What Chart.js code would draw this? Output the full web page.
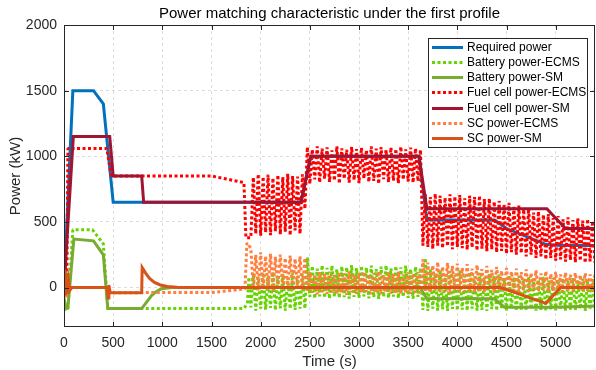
<!DOCTYPE html>
<html>
<head>
<meta charset="utf-8">
<title>Power matching characteristic</title>
<script src="https://cdn.jsdelivr.net/npm/chart.js@4.4.1/dist/chart.umd.min.js"></script>
<style>
  html, body { margin: 0; padding: 0; background: #fff; }
  canvas { display: block; }
</style>
</head>
<body>
<canvas id="powerChart" width="596" height="370"></canvas>
<script>
// time in s, power in kW
const xTickValues = [0, 500, 1000, 1500, 2000, 2500, 3000, 3500, 4000, 4500, 5000];
const yTickValues = [0, 500, 1000, 1500, 2000];

const reqTime  = [0, 90, 300, 400, 500, 790, 810, 2410, 2510, 3610, 3690, 4380, 4500, 4900, 5050, 5400];
const reqPower = [0, 1500, 1500, 1400, 650, 650, 650, 650, 1000, 1000, 515, 515, 450, 330, 320, 320];

const fcSmTime  = [0, 95, 465, 500, 790, 810, 2410, 2510, 3610, 3690, 4910, 5100, 5400];
const fcSmPower = [0, 1150, 1150, 850, 850, 650, 650, 1000, 1000, 600, 600, 450, 450];

const batSmTime  = [0, 20, 40, 100, 300, 400, 445, 790, 840, 890, 940, 990, 1100, 3620, 3690, 4380, 4480, 5000, 5400];
const batSmPower = [-80, -160, -150, 370, 356, 250, -160, -160, -110, -60, -30, -8, 0, 0, -85, -85, -150, -150, -140];

const scSmTime  = [0, 8, 16, 24, 32, 45, 60, 80, 440, 448, 456, 470, 790, 795, 830, 870, 920, 980, 1050, 1150, 1300, 4440, 4900, 5050, 5400];
const scSmPower = [0, 140, -60, 110, -50, 60, -20, 0, 0, -80, 20, -40, -40, 152, 110, 70, 40, 20, 8, 2, 0, 0, -120, 0, 0];

// ECMS: smooth start, then the oscillating part on a common time base
const fcEcmsTime  = [0, 30, 40, 435, 480, 1500, 1830, 1850];
const fcEcmsPower = [0, 150, 1060, 1060, 850, 850, 800, 380];
const batEcmsTime  = [0, 20, 40, 90, 290, 400, 445, 1830, 1865, 1880];
const batEcmsPower = [-100, -170, -160, 440, 440, 333, -160, -160, -120, 80];
const scEcmsTime  = [0, 10, 25, 40, 60, 440, 455, 800, 1500, 1840, 1860];
const scEcmsPower = [0, 120, -80, 60, 0, 0, -40, -38, -38, -10, 340];

const oscTime = [
  1900, 1925, 1950, 1975, 2000, 2025, 2050, 2075, 2100, 2125,
  2150, 2175, 2200, 2225, 2250, 2275, 2300, 2325, 2350, 2375,
  2400, 2425, 2450, 2475, 2500, 2525, 2550, 2575, 2600, 2625,
  2650, 2675, 2700, 2725, 2750, 2775, 2800, 2825, 2850, 2875,
  2900, 2925, 2950, 2975, 3000, 3025, 3050, 3075, 3100, 3125,
  3150, 3175, 3200, 3225, 3250, 3275, 3300, 3325, 3350, 3375,
  3400, 3425, 3450, 3475, 3500, 3525, 3550, 3575, 3600, 3625,
  3650, 3675, 3700, 3725, 3750, 3775, 3800, 3825, 3850, 3875,
  3900, 3925, 3950, 3975, 4000, 4025, 4050, 4075, 4100, 4125,
  4150, 4175, 4200, 4225, 4250, 4275, 4300, 4325, 4350, 4375,
  4400, 4425, 4450, 4475, 4500, 4525, 4550, 4575, 4600, 4625,
  4650, 4675, 4700, 4725, 4750, 4775, 4800, 4825, 4850, 4875,
  4900, 4925, 4950, 4975, 5000, 5025, 5050, 5075, 5100, 5125,
  5150, 5175, 5200, 5225, 5250, 5275, 5300, 5325, 5350, 5375,
  5400
];
const fcEcmsOsc = [
  380, 840, 410, 865, 395, 845, 420, 860, 400, 835,
  430, 858, 405, 842, 425, 866, 398, 850, 435, 845,
  410, 862, 600, 1070, 790, 1052, 825, 1075, 800, 1058,
  830, 1068, 805, 1045, 815, 1075, 792, 1060, 828, 1050,
  800, 1072, 818, 1055, 796, 1066, 830, 1048, 805, 1075,
  812, 1058, 790, 1070, 826, 1050, 802, 1068, 815, 1056,
  795, 1074, 822, 1052, 808, 1066, 798, 1060, 810, 1050,
  320, 712, 310, 690, 295, 715, 320, 700, 300, 685,
  315, 710, 292, 695, 310, 705, 300, 680, 288, 700,
  305, 690, 282, 700, 296, 675, 278, 680, 290, 655,
  268, 660, 280, 635, 258, 645, 270, 615, 250, 625,
  262, 595, 238, 605, 250, 572, 226, 580, 238, 555,
  214, 560, 226, 530, 205, 545, 215, 520, 198, 535,
  210, 515, 192, 528, 204, 510, 188, 522, 200, 505,
  190
];
const batEcmsOsc = [
  -150, 110, -175, 80, -160, 115, -168, 85, -155, 120,
  -172, 90, -158, 105, -176, 75, -162, 112, -170, 88,
  -160, 100, -160, 230, -70, 165, -82, 145, -66, 170,
  -78, 150, -85, 168, -68, 140, -80, 162, -72, 155,
  -84, 172, -70, 148, -79, 165, -66, 152, -82, 168,
  -74, 140, -86, 160, -70, 170, -80, 146, -68, 164,
  -82, 155, -72, 168, -78, 142, -84, 160, -70, 150,
  -170, 225, -178, 140, -160, 110, -175, 135, -165, 100,
  -178, 125, -162, 95, -174, 130, -168, 90, -176, 118,
  -160, 85, -175, 112, -170, 80, -178, 105, -164, 88,
  -176, 100, -166, 72, -174, 95, -160, 78, -178, 90,
  -168, 65, -175, 85, -162, 70, -176, 60, -170, 82,
  -178, 55, -166, 75, -174, 60, -160, 70, -176, 52,
  -168, 72, -175, 55, -162, 68, -178, 50, -170, 64,
  -175
];
const scEcmsOsc = [
  300, -5, 250, -20, 268, -8, 240, -15, 258, -25,
  235, -5, 252, -18, 226, -10, 244, -22, 220, -8,
  238, -15, 225, -30, 120, -40, 100, -52, 118, -35,
  105, -48, 122, -38, 96, -50, 116, -42, 108, -55,
  124, -36, 98, -48, 114, -44, 120, -34, 102, -52,
  110, -40, 125, -50, 95, -38, 118, -46, 104, -42,
  122, -50, 100, -36, 116, -48, 108, -40, 120, -44,
  215, -25, 190, -40, 170, -22, 195, -35, 160, -28,
  188, -42, 165, -20, 182, -36, 150, -30, 178, -24,
  145, -38, 172, -26, 140, -34, 165, -20, 135, -40,
  158, -28, 128, -22, 150, -36, 122, -25, 145, -32,
  118, -20, 138, -34, 112, -26, 132, -30, 108, -22,
  125, -32, 104, -24, 120, -28, 100, -34, 115, -20,
  98, -30, 112, -22, 96, -28, 110, -25, 100, -32,
  105
];

const toPoints = (ts, ys) => ts.map((t, i) => ({ x: t, y: ys[i] }));

const FONT = '"Liberation Sans", Arial, Helvetica, sans-serif';
const INK = '#262626';
Chart.defaults.font.family = FONT;
Chart.defaults.color = INK;

const solid = (label, color, pts) => ({
  label, data: pts, borderColor: color, backgroundColor: color,
  borderWidth: 3, pointRadius: 0, tension: 0, fill: false, borderCapStyle: 'butt'
});
// bevel joins: sharp zigzag turns would otherwise grow miter spikes
const dotted = (label, color, pts) => ({
  label, data: pts, borderColor: color, backgroundColor: color,
  borderWidth: 3, borderDash: [3, 2.5], pointRadius: 0, tension: 0, fill: false,
  borderCapStyle: 'butt', borderJoinStyle: 'bevel'
});

const datasets = [
  solid('Required power', '#0072BD', toPoints(reqTime, reqPower)),
  dotted('Battery power-ECMS', '#66D400', toPoints(batEcmsTime, batEcmsPower).concat(toPoints(oscTime, batEcmsOsc))),
  solid('Battery power-SM', '#77AC30', toPoints(batSmTime, batSmPower)),
  dotted('Fuel cell power-ECMS', '#FF0000', toPoints(fcEcmsTime, fcEcmsPower).concat(toPoints(oscTime, fcEcmsOsc))),
  solid('Fuel cell power-SM', '#A2142F', toPoints(fcSmTime, fcSmPower)),
  dotted('SC power-ECMS', '#FF7F3F', toPoints(scEcmsTime, scEcmsPower).concat(toPoints(oscTime, scEcmsOsc))),
  solid('SC power-SM', '#D95319', toPoints(scSmTime, scSmPower))
];
// matlab draws later lines on top
datasets.forEach((ds, i) => { ds.order = datasets.length - i; });

// box, inward ticks, title and legend in matlab style
const matlabAxes = {
  id: 'matlabAxes',
  afterDatasetsDraw(chart) {
    const { ctx, chartArea: a, scales: { x, y } } = chart;
    ctx.save();
    ctx.strokeStyle = INK;
    ctx.lineWidth = 1;
    ctx.strokeRect(a.left + 0.5, a.top + 0.5, a.right - a.left - 1, a.bottom - a.top - 1);
    ctx.beginPath();
    x.ticks.forEach(t => {
      const px = Math.round(x.getPixelForValue(t.value)) + 0.5;
      ctx.moveTo(px, a.bottom); ctx.lineTo(px, a.bottom - 5);
      ctx.moveTo(px, a.top); ctx.lineTo(px, a.top + 5);
    });
    y.ticks.forEach(t => {
      const py = Math.round(y.getPixelForValue(t.value)) + 0.5;
      ctx.moveTo(a.left, py); ctx.lineTo(a.left + 5, py);
      ctx.moveTo(a.right, py); ctx.lineTo(a.right - 5, py);
    });
    ctx.stroke();
    ctx.restore();
  },
  afterDraw(chart) {
    const { ctx, chartArea: a } = chart;
    ctx.save();
    ctx.fillStyle = '#000';
    ctx.font = '15px ' + FONT;
    ctx.textAlign = 'center';
    ctx.textBaseline = 'middle';
    ctx.fillText('Power matching characteristic under the first profile', (a.left + a.right) / 2, 14);

    // legend
    const bx = a.right - 167, by = a.top + 13, bw = 159, bh = 109;
    ctx.fillStyle = '#fff';
    ctx.fillRect(bx, by, bw, bh);
    ctx.strokeStyle = INK;
    ctx.lineWidth = 1;
    ctx.strokeRect(bx + 0.5, by + 0.5, bw, bh);
    ctx.font = '12px ' + FONT;
    ctx.textAlign = 'left';
    chart.data.datasets.forEach((ds, i) => {
      const ly = Math.round(by + 8.5 + i * 15.3) + 0.5;
      ctx.strokeStyle = ds.borderColor;
      ctx.lineWidth = ds.borderWidth;
      ctx.setLineDash(ds.borderDash || []);
      ctx.beginPath();
      ctx.moveTo(bx + 4, ly); ctx.lineTo(bx + 35, ly);
      ctx.stroke();
      ctx.setLineDash([]);
      ctx.fillStyle = '#000';
      ctx.fillText(ds.label, bx + 39, ly);
    });
    ctx.restore();
  }
};

new Chart(document.getElementById('powerChart').getContext('2d'), {
  type: 'line',
  data: { datasets },
  options: {
    responsive: false,
    animation: false,
    devicePixelRatio: 1,
    layout: { padding: { top: 25, right: 1, bottom: 0, left: 0 } },
    plugins: {
      legend: { display: false },
      title: { display: false },
      tooltip: { enabled: false }
    },
    scales: {
      x: {
        type: 'linear',
        min: 0,
        max: 5400,
        afterFit: s => { s.height = 43; },
        afterBuildTicks: s => { s.ticks = xTickValues.map(v => ({ value: v })); },
        ticks: { autoSkip: false, padding: 8, maxRotation: 0, font: { size: 14 }, color: INK, callback: v => v },
        grid: { color: '#dcdcdc', lineWidth: 1, drawTicks: false },
        border: { display: false, dash: [3, 3] },
        title: { display: true, text: 'Time (s)', font: { size: 15, lineHeight: 1 }, padding: { top: 0, bottom: 1 }, color: INK }
      },
      y: {
        type: 'linear',
        min: -300,
        max: 2000,
        afterFit: s => { s.width = 64; },
        afterBuildTicks: s => { s.ticks = yTickValues.map(v => ({ value: v })); },
        ticks: { autoSkip: false, padding: 7, font: { size: 14 }, color: INK, callback: v => v },
        grid: { color: '#dcdcdc', lineWidth: 1, drawTicks: false },
        border: { display: false, dash: [3, 3] },
        title: { display: true, text: 'Power (kW)', font: { size: 15, lineHeight: 1 }, padding: { top: 8, bottom: 0 }, color: INK }
      }
    }
  },
  plugins: [matlabAxes]
});
</script>
</body>
</html>
